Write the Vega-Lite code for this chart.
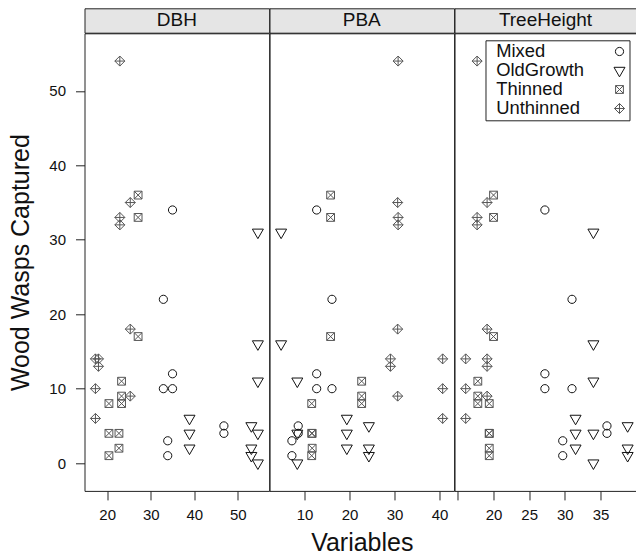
{
  "$schema": "https://vega.github.io/schema/vega-lite/v6.json",
  "padding": {"left": 7.5, "top": 7.3, "right": 0, "bottom": 0},
  "background": "white",
  "config": {
    "font": "Liberation Sans",
    "view": {"stroke": "#222", "strokeWidth": 1},
    "axis": {"grid": false, "domain": false, "tickColor": "#222", "tickSize": 9, "tickWidth": 1,
             "labelFontSize": 15, "labelColor": "#111", "labelPadding": 10, "labelFont": "Liberation Sans",
             "titleFont": "Liberation Sans", "titleFontSize": 25, "titleFontWeight": "normal", "titleColor": "#111",
             "labelOverlap": false, "labelFlush": false},
    "legend": {"orient": "none", "legendX": 401, "legendY": 32, "labelFontSize": 18.4, "labelFont": "Liberation Sans",
               "labelColor": "#111", "symbolSize": 100, "symbolStrokeWidth": 1, "symbolOffset": 122.8, "labelOffset": -132.5,
               "padding": 2, "strokeColor": "#222", "fillColor": "white", "rowPadding": 0, "labelLimit": 0,
               "symbolFillColor": "transparent"}
  },
  "data": {"values": [
    {"Treatment": "Mixed", "DBH": 35.0, "PBA": 12.7, "TreeHeight": 27.2, "Wasps": 34},
    {"Treatment": "Mixed", "DBH": 35.0, "PBA": 12.7, "TreeHeight": 27.2, "Wasps": 12},
    {"Treatment": "Mixed", "DBH": 35.0, "PBA": 12.7, "TreeHeight": 27.2, "Wasps": 10},
    {"Treatment": "Mixed", "DBH": 32.9, "PBA": 16.1, "TreeHeight": 31.0, "Wasps": 22},
    {"Treatment": "Mixed", "DBH": 32.9, "PBA": 16.1, "TreeHeight": 31.0, "Wasps": 10},
    {"Treatment": "Mixed", "DBH": 46.8, "PBA": 8.6, "TreeHeight": 35.9, "Wasps": 5},
    {"Treatment": "Mixed", "DBH": 46.8, "PBA": 8.6, "TreeHeight": 35.9, "Wasps": 4},
    {"Treatment": "Mixed", "DBH": 33.9, "PBA": 7.2, "TreeHeight": 29.7, "Wasps": 3},
    {"Treatment": "Mixed", "DBH": 33.9, "PBA": 7.2, "TreeHeight": 29.7, "Wasps": 1},
    {"Treatment": "OldGrowth", "DBH": 54.6, "PBA": 4.8, "TreeHeight": 34.0, "Wasps": 31},
    {"Treatment": "OldGrowth", "DBH": 54.6, "PBA": 4.8, "TreeHeight": 34.0, "Wasps": 16},
    {"Treatment": "OldGrowth", "DBH": 54.6, "PBA": 8.4, "TreeHeight": 34.0, "Wasps": 11},
    {"Treatment": "OldGrowth", "DBH": 54.6, "PBA": 8.4, "TreeHeight": 34.0, "Wasps": 4},
    {"Treatment": "OldGrowth", "DBH": 54.6, "PBA": 8.4, "TreeHeight": 34.0, "Wasps": 0},
    {"Treatment": "OldGrowth", "DBH": 38.9, "PBA": 19.4, "TreeHeight": 31.5, "Wasps": 6},
    {"Treatment": "OldGrowth", "DBH": 38.9, "PBA": 19.4, "TreeHeight": 31.5, "Wasps": 4},
    {"Treatment": "OldGrowth", "DBH": 38.9, "PBA": 19.4, "TreeHeight": 31.5, "Wasps": 2},
    {"Treatment": "OldGrowth", "DBH": 53.1, "PBA": 24.3, "TreeHeight": 38.8, "Wasps": 5},
    {"Treatment": "OldGrowth", "DBH": 53.1, "PBA": 24.3, "TreeHeight": 38.8, "Wasps": 2},
    {"Treatment": "OldGrowth", "DBH": 53.1, "PBA": 24.3, "TreeHeight": 38.8, "Wasps": 1},
    {"Treatment": "Thinned", "DBH": 27.1, "PBA": 15.8, "TreeHeight": 20.0, "Wasps": 36},
    {"Treatment": "Thinned", "DBH": 27.1, "PBA": 15.8, "TreeHeight": 20.0, "Wasps": 33},
    {"Treatment": "Thinned", "DBH": 27.1, "PBA": 15.8, "TreeHeight": 20.0, "Wasps": 17},
    {"Treatment": "Thinned", "DBH": 23.3, "PBA": 22.7, "TreeHeight": 17.8, "Wasps": 11},
    {"Treatment": "Thinned", "DBH": 23.3, "PBA": 22.7, "TreeHeight": 17.8, "Wasps": 9},
    {"Treatment": "Thinned", "DBH": 23.3, "PBA": 22.7, "TreeHeight": 17.8, "Wasps": 8},
    {"Treatment": "Thinned", "DBH": 20.4, "PBA": 11.6, "TreeHeight": 19.4, "Wasps": 8},
    {"Treatment": "Thinned", "DBH": 20.4, "PBA": 11.6, "TreeHeight": 19.4, "Wasps": 4},
    {"Treatment": "Thinned", "DBH": 20.4, "PBA": 11.6, "TreeHeight": 19.4, "Wasps": 1},
    {"Treatment": "Thinned", "DBH": 22.7, "PBA": 11.7, "TreeHeight": 19.4, "Wasps": 4},
    {"Treatment": "Thinned", "DBH": 22.7, "PBA": 11.7, "TreeHeight": 19.4, "Wasps": 2},
    {"Treatment": "Unthinned", "DBH": 22.9, "PBA": 30.8, "TreeHeight": 17.7, "Wasps": 54},
    {"Treatment": "Unthinned", "DBH": 22.9, "PBA": 30.8, "TreeHeight": 17.7, "Wasps": 33},
    {"Treatment": "Unthinned", "DBH": 22.9, "PBA": 30.8, "TreeHeight": 17.7, "Wasps": 32},
    {"Treatment": "Unthinned", "DBH": 25.3, "PBA": 30.7, "TreeHeight": 19.1, "Wasps": 35},
    {"Treatment": "Unthinned", "DBH": 25.3, "PBA": 30.7, "TreeHeight": 19.1, "Wasps": 18},
    {"Treatment": "Unthinned", "DBH": 25.3, "PBA": 30.7, "TreeHeight": 19.1, "Wasps": 9},
    {"Treatment": "Unthinned", "DBH": 18.0, "PBA": 29.1, "TreeHeight": 19.1, "Wasps": 14},
    {"Treatment": "Unthinned", "DBH": 18.0, "PBA": 29.1, "TreeHeight": 19.1, "Wasps": 13},
    {"Treatment": "Unthinned", "DBH": 17.3, "PBA": 40.7, "TreeHeight": 16.1, "Wasps": 14},
    {"Treatment": "Unthinned", "DBH": 17.3, "PBA": 40.7, "TreeHeight": 16.1, "Wasps": 10},
    {"Treatment": "Unthinned", "DBH": 17.3, "PBA": 40.7, "TreeHeight": 16.1, "Wasps": 6}
  ]},
  "columns": 3,
  "spacing": 0,
  "bounds": "flush",
  "concat": [
    {"data": {"values": [{"panel": "DBH"}]}, "width": 184.7, "height": 24.4,
     "view": {"fill": "#e5e5e5", "stroke": "#222"},
     "mark": {"type": "text", "fontSize": 19, "color": "#111", "baseline": "middle", "font": "Liberation Sans"},
     "encoding": {"text": {"field": "panel"}}},
    {"data": {"values": [{"panel": "PBA"}]}, "width": 184.6, "height": 24.4,
     "view": {"fill": "#e5e5e5", "stroke": "#222"},
     "mark": {"type": "text", "fontSize": 19, "color": "#111", "baseline": "middle", "font": "Liberation Sans"},
     "encoding": {"text": {"field": "panel"}}},
    {"data": {"values": [{"panel": "TreeHeight"}]}, "width": 182, "height": 24.4,
     "view": {"fill": "#e5e5e5", "stroke": "#222"},
     "mark": {"type": "text", "fontSize": 19, "color": "#111", "baseline": "middle", "font": "Liberation Sans"},
     "encoding": {"text": {"field": "panel"}}},
    {"width": 184.7, "height": 457.6,
     "mark": {"type": "point", "filled": false, "size": 100, "strokeWidth": 1, "opacity": 1},
     "encoding": {
       "x": {"field": "DBH", "type": "quantitative", "scale": {"domain": [14.79, 57.2], "nice": false, "zero": false},
             "axis": {"values": [20, 30, 40, 50], "title": null, "labelPadding": 8}},
       "y": {"field": "Wasps", "type": "quantitative", "scale": {"domain": [-3.73, 57.73], "nice": false, "zero": false},
             "axis": {"values": [0, 10, 20, 30, 40, 50], "title": "Wood Wasps Captured", "titlePadding": 15}},
       "shape": {"field": "Treatment", "type": "nominal", "title": null,
                 "scale": {"domain": ["Mixed", "OldGrowth", "Thinned", "Unthinned"],
                           "range": ["M0.82,0A0.82,0.82,0,1,1,-0.82,0A0.82,0.82,0,1,1,0.82,0Z",
                                     "M-1.1,-0.64L1.1,-0.64L0,1.27Z",
                                     "M-0.78,-0.78L0.78,-0.78L0.78,0.78L-0.78,0.78Z M-0.78,-0.78L0.78,0.78 M0.78,-0.78L-0.78,0.78",
                                     "M0,-1L1,0L0,1L-1,0Z M0,-1L0,1 M-1,0L1,0"]}},
       "color": {"field": "Treatment", "type": "nominal", "title": null,
                 "scale": {"domain": ["Mixed", "OldGrowth", "Thinned", "Unthinned"], "range": ["#111111", "#111111", "#555555", "#555555"]}}
     }},
    {"width": 184.6, "height": 457.6,
     "mark": {"type": "point", "filled": false, "size": 100, "strokeWidth": 1, "opacity": 1},
     "encoding": {
       "x": {"field": "PBA", "type": "quantitative", "scale": {"domain": [2.22, 43.24], "nice": false, "zero": false},
             "axis": {"values": [10, 20, 30, 40], "title": "Variables", "titlePadding": 8, "labelPadding": 8}},
       "y": {"field": "Wasps", "type": "quantitative", "scale": {"domain": [-3.73, 57.73], "nice": false, "zero": false}, "axis": null},
       "shape": {"field": "Treatment", "type": "nominal", "title": null,
                 "scale": {"domain": ["Mixed", "OldGrowth", "Thinned", "Unthinned"],
                           "range": ["M0.82,0A0.82,0.82,0,1,1,-0.82,0A0.82,0.82,0,1,1,0.82,0Z",
                                     "M-1.1,-0.64L1.1,-0.64L0,1.27Z",
                                     "M-0.78,-0.78L0.78,-0.78L0.78,0.78L-0.78,0.78Z M-0.78,-0.78L0.78,0.78 M0.78,-0.78L-0.78,0.78",
                                     "M0,-1L1,0L0,1L-1,0Z M0,-1L0,1 M-1,0L1,0"]}},
       "color": {"field": "Treatment", "type": "nominal", "title": null,
                 "scale": {"domain": ["Mixed", "OldGrowth", "Thinned", "Unthinned"], "range": ["#111111", "#111111", "#555555", "#555555"]}}
     }},
    {"width": 182, "height": 457.6,
     "mark": {"type": "point", "filled": false, "size": 100, "strokeWidth": 1, "opacity": 1},
     "encoding": {
       "x": {"field": "TreeHeight", "type": "quantitative", "scale": {"domain": [14.53, 40.04], "nice": false, "zero": false},
             "axis": {"values": [15, 20, 25, 30, 35, 40], "title": null, "labelPadding": 8,
                      "labelExpr": "datum.value == 15 || datum.value == 40 ? '' : datum.label"}},
       "y": {"field": "Wasps", "type": "quantitative", "scale": {"domain": [-3.73, 57.73], "nice": false, "zero": false}, "axis": null},
       "shape": {"field": "Treatment", "type": "nominal", "title": null,
                 "scale": {"domain": ["Mixed", "OldGrowth", "Thinned", "Unthinned"],
                           "range": ["M0.82,0A0.82,0.82,0,1,1,-0.82,0A0.82,0.82,0,1,1,0.82,0Z",
                                     "M-1.1,-0.64L1.1,-0.64L0,1.27Z",
                                     "M-0.78,-0.78L0.78,-0.78L0.78,0.78L-0.78,0.78Z M-0.78,-0.78L0.78,0.78 M0.78,-0.78L-0.78,0.78",
                                     "M0,-1L1,0L0,1L-1,0Z M0,-1L0,1 M-1,0L1,0"]}},
       "color": {"field": "Treatment", "type": "nominal", "title": null,
                 "scale": {"domain": ["Mixed", "OldGrowth", "Thinned", "Unthinned"], "range": ["#111111", "#111111", "#555555", "#555555"]}}
     }}
  ]
}
